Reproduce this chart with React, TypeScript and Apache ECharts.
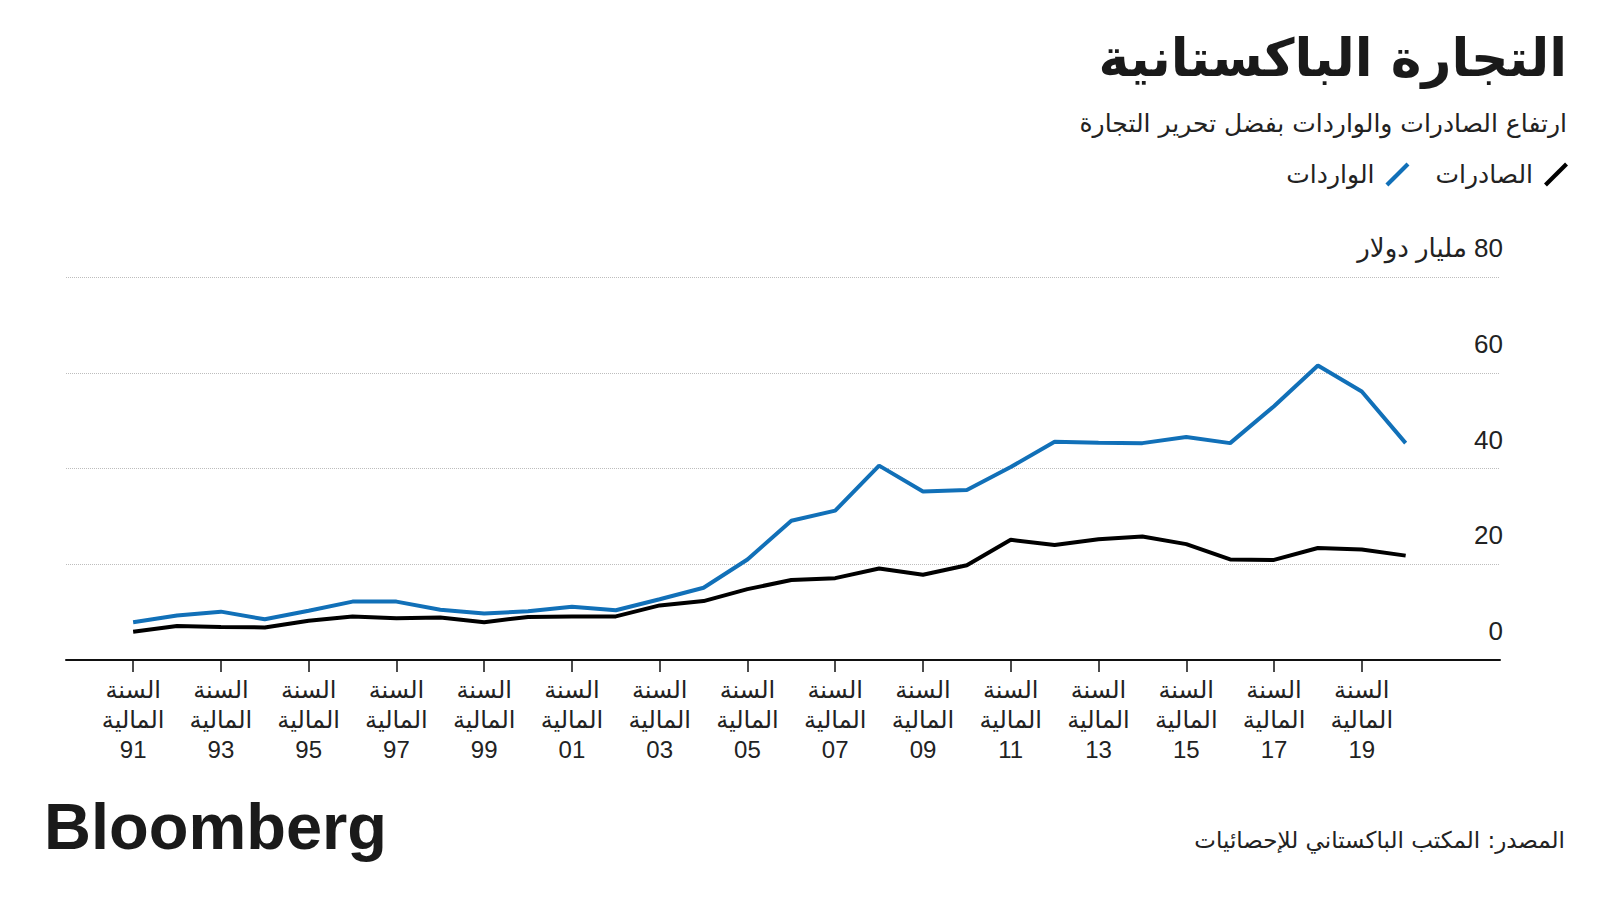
import React, { useEffect, useRef } from "react";
import * as echarts from "echarts";

const TITLE = "التجارة الباكستانية";
const SUBTITLE = "ارتفاع الصادرات والواردات بفضل تحرير التجارة";
const SOURCE = "المصدر: المكتب الباكستاني للإحصائيات";
const EXPORTS_NAME = "الصادرات";
const IMPORTS_NAME = "الواردات";
const UNIT = "مليار دولار";

// Fiscal years FY1991 .. FY2020
const years = [
  1991, 1992, 1993, 1994, 1995, 1996, 1997, 1998, 1999, 2000,
  2001, 2002, 2003, 2004, 2005, 2006, 2007, 2008, 2009, 2010,
  2011, 2012, 2013, 2014, 2015, 2016, 2017, 2018, 2019, 2020,
];
// Billions of US dollars
const exportsBn = [
  5.9, 7.1, 6.9, 6.8, 8.2, 9.1, 8.7, 8.9, 7.9, 9.0,
  9.1, 9.1, 11.4, 12.3, 14.8, 16.7, 17.1, 19.1, 17.8, 19.8,
  25.1, 24.0, 25.2, 25.8, 24.2, 21.0, 20.9, 23.4, 23.1, 21.8,
];
const importsBn = [
  7.9, 9.3, 10.1, 8.5, 10.3, 12.2, 12.2, 10.5, 9.7, 10.2,
  11.1, 10.4, 12.7, 15.1, 21.0, 29.1, 31.2, 40.6, 35.2, 35.5,
  40.3, 45.6, 45.4, 45.3, 46.6, 45.3, 53.0, 61.5, 56.1, 45.3,
];
const tickYears = [
  1991, 1993, 1995, 1997, 1999, 2001, 2003, 2005, 2007, 2009,
  2011, 2013, 2015, 2017, 2019,
];
const yTicks = [0, 20, 40, 60, 80];

const FONT = "'Liberation Sans Narrow', 'Liberation Sans', 'DejaVu Sans', sans-serif";
const AR_FONT = "'DejaVu Sans', 'Liberation Sans', sans-serif";

export default function App() {
  const ref = useRef<HTMLDivElement>(null);

  useEffect(() => {
    const chart = echarts.init(ref.current!, null, { renderer: "svg" });
    const slash = "path://M0,20 L20,0 L22.8,2.8 L2.8,22.8 Z";
    chart.setOption({
      animation: false,
      backgroundColor: "#ffffff",
      textStyle: { fontFamily: FONT },
      title: [
        {
          text: TITLE,
          right: 28,
          top: 27,
          textStyle: { fontFamily: AR_FONT, fontSize: 52, fontWeight: "bold", color: "#1a1a1a" },
        },
        {
          text: SUBTITLE,
          right: 28,
          top: 106,
          textStyle: { fontFamily: AR_FONT, fontSize: 25, fontWeight: "normal", color: "#222" },
        },
        {
          text: SOURCE,
          right: 30,
          top: 823,
          textStyle: { fontFamily: AR_FONT, fontSize: 23, fontWeight: "normal", color: "#222" },
        },
        {
          text: "Bloomberg",
          left: 39,
          top: 789,
          textStyle: {
            fontFamily: "'Liberation Sans', Arial, sans-serif",
            fontSize: 65,
            fontWeight: "bold",
            color: "#1a1a1a",
          },
        },
      ],
      legend: {
        right: 27,
        top: 157,
        orient: "horizontal",
        align: "right",
        itemWidth: 24,
        itemHeight: 24,
        itemGap: 26,
        data: [
          { name: IMPORTS_NAME, icon: slash },
          { name: EXPORTS_NAME, icon: slash },
        ],
        textStyle: { fontFamily: AR_FONT, fontSize: 25, color: "#222", padding: [0, 6, 0, 0] },
      },
      grid: { left: 66, right: 100, top: 277, bottom: 240 },
      xAxis: {
        type: "value",
        min: 1989.47,
        max: 2022.15,
        axisLine: { show: true, onZero: false, lineStyle: { color: "#111", width: 2 } },
        axisTick: {
          show: true,
          customValues: tickYears,
          length: 12,
          lineStyle: { color: "#111", width: 1.5 },
        },
        axisLabel: {
          customValues: tickYears,
          formatter: (v: number) => `السنة\nالمالية\n${String(v).slice(2)}`,
          fontFamily: FONT,
          fontSize: 24,
          lineHeight: 30,
          color: "#222",
          margin: 14,
        },
        splitLine: { show: false },
      },
      yAxis: {
        type: "value",
        position: "right",
        min: yTicks[0],
        max: yTicks[yTicks.length - 1],
        interval: 20,
        axisLine: { show: false },
        axisTick: { show: false },
        axisLabel: {
          inside: true,
          margin: -3,
          verticalAlign: "bottom",
          padding: [0, 0, 16, 0],
          fontFamily: FONT,
          fontSize: 26,
          color: "#222",
          formatter: (v: number) => (v === 80 ? `\u200F${v} ${UNIT}` : String(v)),
        },
        splitLine: { lineStyle: { type: "dotted", color: "#bdbdbd", width: 1 } },
      },
      series: [
        {
          name: EXPORTS_NAME,
          type: "line",
          data: years.map((y, i) => [y, exportsBn[i]]),
          showSymbol: false,
          symbol: "none",
          color: "#000000",
          lineStyle: { width: 4, color: "#000000" },
          z: 3,
        },
        {
          name: IMPORTS_NAME,
          type: "line",
          data: years.map((y, i) => [y, importsBn[i]]),
          showSymbol: false,
          symbol: "none",
          color: "#1170b8",
          lineStyle: { width: 4, color: "#1170b8" },
          z: 2,
        },
      ],
    });
    return () => chart.dispose();
  }, []);

  return (
    <div
      ref={ref}
      style={{ position: "fixed", left: 0, top: 0, width: 1600, height: 900, background: "#fff" }}
    />
  );
}
